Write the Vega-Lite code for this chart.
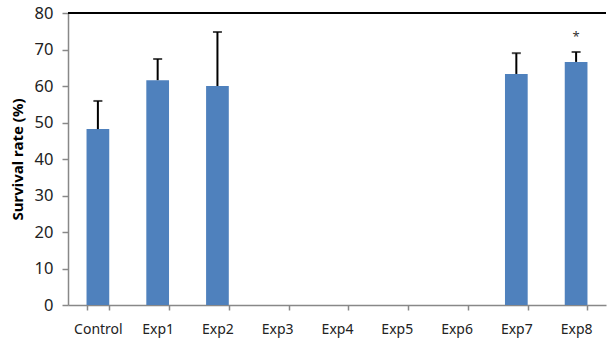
{
  "$schema": "https://vega.github.io/schema/vega-lite/v6.json",
  "autosize": "none",
  "width": 538,
  "height": 292,
  "padding": {"left": 68, "top": 13, "right": 2, "bottom": 37},
  "background": "white",
  "config": {
    "view": {"stroke": null},
    "font": "Noto Sans",
    "axis": {"labelOverlap": false}
  },
  "data": {
    "values": [
      {"group": "Control", "mean": 48.2, "upper": 55.9, "sig": ""},
      {"group": "Exp1", "mean": 61.6, "upper": 67.4, "sig": ""},
      {"group": "Exp2", "mean": 60.0, "upper": 74.8, "sig": ""},
      {"group": "Exp3", "mean": null, "upper": null, "sig": ""},
      {"group": "Exp4", "mean": null, "upper": null, "sig": ""},
      {"group": "Exp5", "mean": null, "upper": null, "sig": ""},
      {"group": "Exp6", "mean": null, "upper": null, "sig": ""},
      {"group": "Exp7", "mean": 63.3, "upper": 69.0, "sig": ""},
      {"group": "Exp8", "mean": 66.6, "upper": 69.3, "sig": "*"}
    ]
  },
  "layer": [
    {
      "mark": {"type": "bar", "color": "#4F81BD"},
      "encoding": {
        "x": {
          "field": "group",
          "type": "nominal",
          "sort": ["Control", "Exp1", "Exp2", "Exp3", "Exp4", "Exp5", "Exp6", "Exp7", "Exp8"],
          "scale": {"paddingInner": 0.62, "paddingOuter": 0.31},
          "axis": {
            "title": null,
            "labelAngle": 0,
            "labelFontSize": 14,
            "labelColor": "#222222",
            "labelPadding": 12,
            "domainColor": "#888888",
            "domainWidth": 1.5,
            "tickColor": "#888888",
            "tickWidth": 1.5,
            "tickSize": 5,
            "tickBand": "extent"
          }
        },
        "y": {
          "field": "mean",
          "type": "quantitative",
          "scale": {"domain": [0, 80], "nice": false},
          "axis": {
            "title": "Survival rate (%)",
            "titleFontSize": 15,
            "titleFontWeight": "bold",
            "titleColor": "#000000",
            "titlePadding": 9,
            "values": [0, 10, 20, 30, 40, 50, 60, 70, 80],
            "labelOverlap": false,
            "grid": false,
            "labelFontSize": 16.5,
            "labelColor": "#222222",
            "labelPadding": 9,
            "domainColor": "#888888",
            "domainWidth": 1.5,
            "tickColor": "#888888",
            "tickWidth": 1.5,
            "tickSize": 6
          }
        }
      }
    },
    {
      "transform": [{"filter": "isValid(datum.upper)"}],
      "mark": {"type": "rule", "color": "#000000", "strokeWidth": 2},
      "encoding": {
        "x": {"field": "group", "type": "nominal", "sort": ["Control", "Exp1", "Exp2", "Exp3", "Exp4", "Exp5", "Exp6", "Exp7", "Exp8"]},
        "y": {"field": "mean", "type": "quantitative", "axis": {"title": "Survival rate (%)", "values": [0, 10, 20, 30, 40, 50, 60, 70, 80], "labelOverlap": false}},
        "y2": {"field": "upper"}
      }
    },
    {
      "transform": [{"filter": "isValid(datum.upper)"}],
      "mark": {"type": "tick", "color": "#000000", "thickness": 2, "size": 9},
      "encoding": {
        "x": {"field": "group", "type": "nominal", "sort": ["Control", "Exp1", "Exp2", "Exp3", "Exp4", "Exp5", "Exp6", "Exp7", "Exp8"]},
        "y": {"field": "upper", "type": "quantitative", "axis": {"title": "Survival rate (%)", "values": [0, 10, 20, 30, 40, 50, 60, 70, 80], "labelOverlap": false}}
      }
    },
    {
      "transform": [{"filter": "isValid(datum.upper)"}],
      "mark": {"type": "text", "fontSize": 13, "dy": -15, "color": "#333333"},
      "encoding": {
        "x": {"field": "group", "type": "nominal", "sort": ["Control", "Exp1", "Exp2", "Exp3", "Exp4", "Exp5", "Exp6", "Exp7", "Exp8"]},
        "y": {"field": "upper", "type": "quantitative", "axis": {"title": "Survival rate (%)", "values": [0, 10, 20, 30, 40, 50, 60, 70, 80], "labelOverlap": false}},
        "text": {"field": "sig"}
      }
    },
    {
      "mark": {"type": "rule", "color": "#000000", "strokeWidth": 2},
      "encoding": {
        "y": {"datum": 80, "axis": {"title": "Survival rate (%)", "values": [0, 10, 20, 30, 40, 50, 60, 70, 80], "labelOverlap": false}}
      }
    }
  ]
}
